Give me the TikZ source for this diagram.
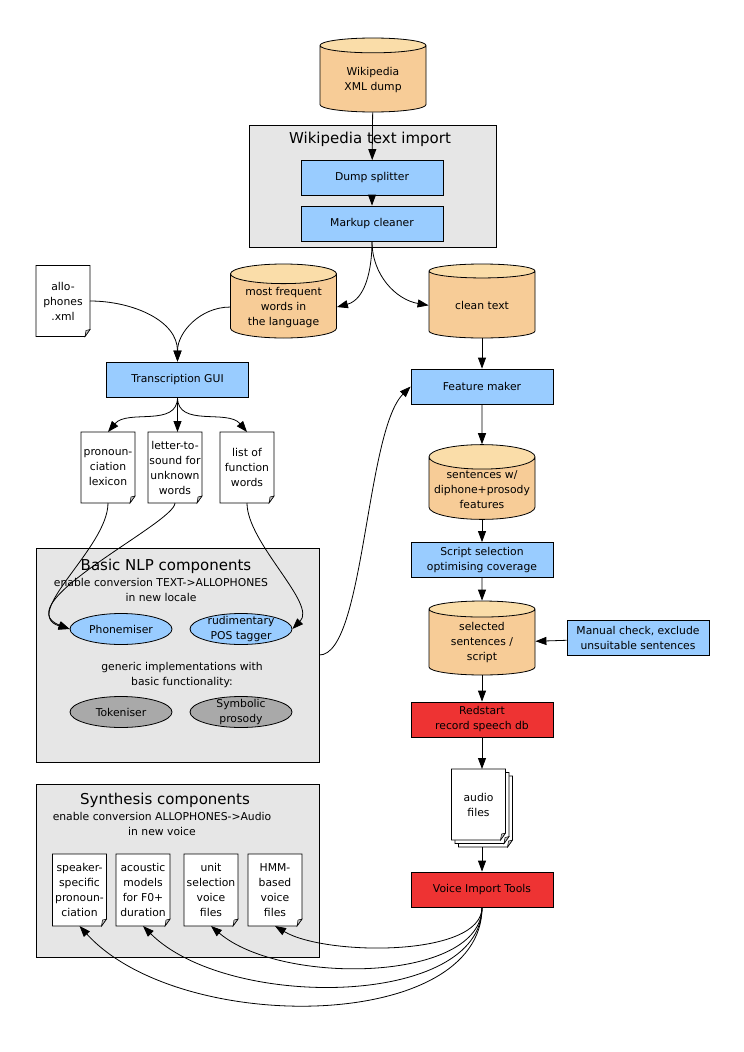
\documentclass[tikz,border=0pt]{standalone}
\usepackage{fontspec}
\setmainfont{DejaVu Sans}
\usetikzlibrary{arrows.meta,positioning,shapes.geometric}
\definecolor{ProcBlue}{HTML}{99CCFF}
\definecolor{StoreBody}{HTML}{F7CC97}
\definecolor{StoreTop}{HTML}{FADDA9}
\definecolor{ToolRed}{HTML}{EE3333}
\definecolor{GroupGrey}{HTML}{E6E6E6}
\definecolor{ImplGrey}{HTML}{A9A9A9}

% page with a dog-eared bottom right corner
\makeatletter
\pgfdeclareshape{docpage}{
  \inheritsavedanchors[from=rectangle]
  \inheritanchorborder[from=rectangle]
  \inheritanchor[from=rectangle]{center}
  \inheritanchor[from=rectangle]{north}
  \inheritanchor[from=rectangle]{south}
  \inheritanchor[from=rectangle]{east}
  \inheritanchor[from=rectangle]{west}
  \inheritanchor[from=rectangle]{north east}
  \inheritanchor[from=rectangle]{north west}
  \inheritanchor[from=rectangle]{south east}
  \inheritanchor[from=rectangle]{south west}
  \backgroundpath{
    \southwest \pgf@xa=\pgf@x \pgf@ya=\pgf@y
    \northeast \pgf@xb=\pgf@x \pgf@yb=\pgf@y
    \pgf@xc=\pgf@xb \advance\pgf@xc by -5pt
    \pgf@yc=\pgf@ya \advance\pgf@yc by 7pt
    \pgfpathmoveto{\pgfqpoint{\pgf@xa}{\pgf@ya}}
    \pgfpathlineto{\pgfqpoint{\pgf@xa}{\pgf@yb}}
    \pgfpathlineto{\pgfqpoint{\pgf@xb}{\pgf@yb}}
    \pgfpathlineto{\pgfqpoint{\pgf@xb}{\pgf@yc}}
    \pgfpathlineto{\pgfqpoint{\pgf@xc}{\pgf@ya}}
    \pgfpathclose
  }
  \foregroundpath{
    \southwest \pgf@xa=\pgf@x \pgf@ya=\pgf@y
    \northeast \pgf@xb=\pgf@x
    \pgf@xc=\pgf@xb \advance\pgf@xc by -5pt
    \pgf@yc=\pgf@ya \advance\pgf@yc by 7pt
    \pgf@yb=\pgf@yc \advance\pgf@yb by -1pt
    \pgf@xa=\pgf@xc \advance\pgf@xa by 1pt
    \pgfscope
    \pgfsetlinewidth{0.5pt}
    \pgfsetfillcolor{black!25}
    \pgfpathmoveto{\pgfqpoint{\pgf@xb}{\pgf@yc}}
    \pgfpathlineto{\pgfqpoint{\pgf@xa}{\pgf@yb}}
    \pgfpathlineto{\pgfqpoint{\pgf@xc}{\pgf@ya}}
    \pgfpathclose
    \pgfusepath{fill,stroke}
    \endpgfscope
  }
}
\makeatother

\begin{document}
\begin{tikzpicture}[x=1pt, y=1pt, font=\fontsize{10.8}{15}\selectfont, line width=0.8pt,
  >={Triangle[length=11pt,width=8pt]},
  proc/.style={draw, fill=ProcBlue, minimum width=142pt, minimum height=35pt, align=center, inner sep=1pt},
  tool/.style={proc, fill=ToolRed},
  store/.style={cylinder, shape border rotate=90, anchor=shape center, draw, cylinder uses custom fill, cylinder body fill=StoreBody, cylinder end fill=StoreTop, minimum width=106pt, minimum height=74pt, aspect=0.25, align=center, inner sep=1pt},
  doc/.style={shape=docpage, draw, fill=white, minimum width=54pt, minimum height=71pt, align=center, inner sep=1pt, outer sep=0pt},
  impl/.style={ellipse, draw, fill=ProcBlue, minimum width=102pt, minimum height=31pt, align=center, inner xsep=0pt, inner ysep=-2pt},
  generic/.style={impl, fill=ImplGrey},
  group/.style={draw, fill=GroupGrey},
  grouptitle/.style={font=\fontsize{15}{18}\selectfont},
  groupnote/.style={align=center}]

\fill[white] (0,0) rectangle (744,-1052);
\useasboundingbox (0,0) rectangle (744,-1052);

% text import
\node[store] (dump) at (373,-75) {Wikipedia\\XML dump};
\node[group, minimum width=247pt, minimum height=122pt] (wti) at (372.5,-186) {};
\node[grouptitle] at (370,-139) {Wikipedia text import};
\node[proc] (split) at (372,-178) {Dump splitter};
\node[proc] (clean) at (372,-223.5) {Markup cleaner};

\node[store] (freq) at (283.5,-301) {most frequent\\words in\\the language};
\node[store] (text) at (482,-301) {clean text};
\node[doc] (allo) at (63,-301) {allo-\\phones\\.xml};

% transcription
\node[proc] (gui) at (177.5,-379.5) {Transcription GUI};
\node[doc] (lex) at (108,-467.5) {pronoun-\\ciation\\lexicon};
\node[doc] (lts) at (175,-467.5) {letter-to-\\sound for\\unknown\\words};
\node[doc] (func) at (247,-467.5) {list of\\function\\words};

% basic NLP components
\node[group, minimum width=283pt, minimum height=214pt] (nlp) at (177.5,-655) {};
\node[grouptitle] at (166,-566) {Basic NLP components};
\node[groupnote] at (161,-590) {enable conversion TEXT->ALLOPHONES\\in new locale};
\node[impl] (phon) at (121,-629) {Phonemiser};
\node[impl] (pos) at (241,-629) {rudimentary\\POS tagger};
\node[groupnote] at (182,-675) {generic implementations with\\basic functionality:};
\node[generic] (tok) at (121,-712) {Tokeniser};
\node[generic] (symb) at (241,-712) {Symbolic\\prosody};

% script and recording
\node[proc] (feat) at (482,-386.5) {Feature maker};
\node[store] (sent) at (482,-482) {sentences w/\\diphone+prosody\\features};
\node[proc] (scrsel) at (482,-560) {Script selection\\optimising coverage};
\node[store] (selected) at (482,-638) {selected\\sentences /\\script};
\node[proc] (manual) at (638,-638) {Manual check, exclude\\unsuitable sentences};
\node[tool] (redstart) at (482,-719.5) {Redstart\\record speech db};
\node[doc] (audio3) at (485.5,-811.5) {};
\node[doc] (audio2) at (482,-808) {};
\node[doc] (audio) at (478.5,-804.5) {audio\\files};
\node[tool] (vit) at (482,-889.5) {Voice Import Tools};

% synthesis components
\node[group, minimum width=283pt, minimum height=173pt] (syn) at (177.5,-870.5) {};
\node[grouptitle] at (165,-800) {Synthesis components};
\node[groupnote] at (162,-824) {enable conversion ALLOPHONES->Audio\\in new voice};
\node[doc, minimum height=72pt] (spk) at (79.5,-890) {speaker-\\specific\\pronoun-\\ciation};
\node[doc, minimum height=72pt] (acou) at (143,-890) {acoustic\\models\\for F0+\\duration};
\node[doc, minimum height=72pt] (unit) at (211,-890) {unit\\selection\\voice\\files};
\node[doc, minimum height=72pt] (hmm) at (275,-890) {HMM-\\based\\voice\\files};

% connectors
\draw[->] (dump) -- (split);
\draw[->] (split) -- (clean);
\draw[->] (clean.south) to[out=-90,in=15] (freq.east);
\draw[->] (clean.south) to[out=-90,in=170] (text.west);
\draw[->] (allo.east) to[out=0,in=90] (gui.north);
\draw[->] (freq.west) to[out=180,in=90] (gui.north);
\draw[->] (gui.south) to[out=-90,in=50] (lex.north);
\draw[->] (gui.south) -- (gui.south |- lts.north);
\draw[->] (gui.south) to[out=-90,in=130] (func.north);
\draw[->] (lex.south) .. controls +(0,-45) and +(-50,15) .. (phon.west);
\draw[->] (lts.south) .. controls +(0,-20) and +(-65,25) .. (phon.west);
\draw[->] (func.south) .. controls +(0,-40) and +(25,25) .. (pos.east);
\draw[->] (nlp.east) .. controls +(45,0) and +(-45,-45) .. (feat.west);
\draw[->] (text) -- (feat);
\draw[->] (feat) -- (sent);
\draw[->] (sent) -- (scrsel);
\draw[->] (scrsel) -- (selected);
\draw[->] (manual) -- (selected);
\draw[->] (selected) -- (redstart);
\draw[->] (redstart.south) -- (redstart.south |- audio.north);
\draw[->] (vit.north |- audio3.south) -- (vit.north);
\draw[->] (vit.south) .. controls +(0,-50) and +(50,-30) .. (hmm.south);
\draw[->] (vit.south) .. controls +(0,-75) and +(70,-60) .. (unit.south);
\draw[->] (vit.south) .. controls +(0,-100) and +(85,-85) .. (acou.south);
\draw[->] (vit.south) .. controls +(0,-125) and +(100,-110) .. (spk.south);
\end{tikzpicture}
\end{document}
